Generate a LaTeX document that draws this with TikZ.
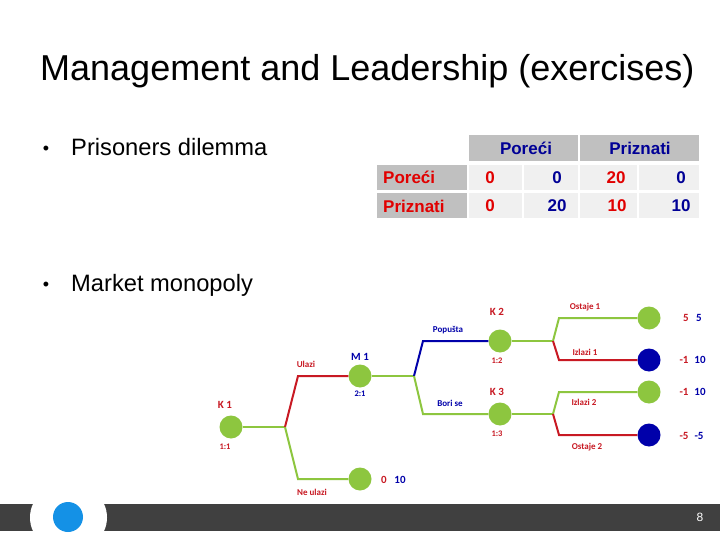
\documentclass[tikz,border=0pt]{standalone}
\usepackage{fontspec}
\setmainfont{Liberation Sans}
\newfontfamily\treefont{Carlito}
\definecolor{tgreen}{RGB}{141,198,63}
\definecolor{tnavy}{RGB}{0,0,170}
\definecolor{tred}{RGB}{200,25,35}
\definecolor{tabred}{RGB}{225,0,0}
\definecolor{tabblue}{RGB}{0,0,150}
\definecolor{cellgray}{RGB}{192,192,192}
\definecolor{celllight}{RGB}{240,240,240}
\definecolor{bardark}{RGB}{64,64,64}
\definecolor{dotblue}{RGB}{20,145,230}
\tikzset{
  px/.style={x=1pt,y=-1pt},
  gnode/.style={circle,fill=tgreen,minimum size=23pt,inner sep=0pt},
  bnode/.style={circle,fill=tnavy,minimum size=23pt,inner sep=0pt},
  gline/.style={draw=tgreen,line width=2pt},
  rline/.style={draw=tred,line width=2pt},
  nline/.style={draw=tnavy,line width=2pt},
  hcell/.style={fill=cellgray},
  vcell/.style={fill=celllight},
  tablabel/.style={font=\fontsize{17}{19}\selectfont\bfseries,text=tabred,anchor=west,inner sep=0pt},
  tabhead/.style={font=\fontsize{17}{19}\selectfont\bfseries,text=tabblue,inner sep=0pt},
  tabr/.style={font=\fontsize{17}{19}\selectfont\bfseries,text=tabred,inner sep=0pt},
  tabb/.style={font=\fontsize{17}{19}\selectfont\bfseries,text=tabblue,inner sep=0pt},
  klab/.style={font=\treefont\fontsize{11}{12}\selectfont\bfseries,inner sep=0pt},
  rlab/.style={font=\treefont\fontsize{8.5}{9}\selectfont\bfseries,inner sep=0pt},
  blab/.style={font=\treefont\fontsize{9}{10}\selectfont\bfseries,inner sep=0pt},
  pay/.style={font=\treefont\fontsize{11}{12}\selectfont\bfseries,inner sep=0pt},
}
\begin{document}
\begin{tikzpicture}[px]
\useasboundingbox (0,0) rectangle (720,540);
\fill[white] (0,0) rectangle (720,540);
% title
\node[anchor=base west,inner sep=0pt,font=\fontsize{36}{40}\selectfont] (title) at (40,81) {Management and Leadership (exercises)};
% bullets
\node[anchor=base,inner sep=0pt,font=\fontsize{18}{20}\selectfont] (bul1) at (46,155) {•};
\node[anchor=base west,inner sep=0pt,font=\fontsize{23.7}{26}\selectfont] (txt1) at (71,156) {Prisoners dilemma};
\node[anchor=base,inner sep=0pt,font=\fontsize{18}{20}\selectfont] (bul2) at (46,290) {•};
\node[anchor=base west,inner sep=0pt,font=\fontsize{23.7}{26}\selectfont] (txt2) at (71,291) {Market monopoly};
% table cells
\path[hcell] (469,135) rectangle (578,161);
\path[hcell] (580,135) rectangle (699,161);
\path[hcell] (377,165) rectangle (467,190);
\path[hcell] (377,193) rectangle (467,218);
\path[vcell] (469,165) rectangle (522,190);
\path[vcell] (524,165) rectangle (578,190);
\path[vcell] (580,165) rectangle (637,190);
\path[vcell] (639,165) rectangle (699,190);
\path[vcell] (469,193) rectangle (522,218);
\path[vcell] (524,193) rectangle (578,218);
\path[vcell] (580,193) rectangle (637,218);
\path[vcell] (639,193) rectangle (699,218);
% table text
\node[tabhead] (h1) at (526,148) {Poreći};
\node[tabhead] (h2) at (640,148) {Priznati};
\node[tablabel] (r1) at (383,177.5) {Poreći};
\node[tablabel] (r2) at (383,206) {Priznati};
\node[tabr] (v11) at (490,177.5) {0};
\node[tabb] (v12) at (557,177.5) {0};
\node[tabr] (v13) at (616,177.5) {20};
\node[tabb] (v14) at (681,177.5) {0};
\node[tabr] (v21) at (490,206) {0};
\node[tabb] (v22) at (557,206) {20};
\node[tabr] (v23) at (617,206) {10};
\node[tabb] (v24) at (681,206) {10};
% tree coordinates
\coordinate (b1) at (285,427);
\coordinate (c1) at (298,376);
\coordinate (c2) at (298,479);
\coordinate (b2) at (414,376);
\coordinate (c3) at (423,341);
\coordinate (c4) at (423,414);
\coordinate (b3) at (553,341);
\coordinate (c5) at (559,318);
\coordinate (c6) at (559,360);
\coordinate (b4) at (553,414);
\coordinate (c7) at (559,392);
\coordinate (c8) at (559,435);
% tree nodes
\node[gnode] (K1) at (231,427) {};
\node[gnode] (M1) at (360,376) {};
\node[gnode] (N1) at (360,479) {};
\node[gnode] (K2) at (500,341) {};
\node[gnode] (K3) at (500,414) {};
\node[gnode] (L1) at (649,318) {};
\node[bnode] (L2) at (649,360) {};
\node[gnode] (L3) at (649,392) {};
\node[bnode] (L4) at (649,435) {};
% tree lines
\draw[gline] (K1) -- (b1);
\draw[rline] (b1) -- (c1) -- (M1);
\draw[gline] (b1) -- (c2) -- (N1);
\draw[gline] (M1) -- (b2);
\draw[nline] (b2) -- (c3) -- (K2);
\draw[gline] (b2) -- (c4) -- (K3);
\draw[gline] (K2) -- (b3);
\draw[gline] (b3) -- (c5) -- (L1);
\draw[rline] (b3) -- (c6) -- (L2);
\draw[gline] (K3) -- (b4);
\draw[gline] (b4) -- (c7) -- (L3);
\draw[rline] (b4) -- (c8) -- (L4);
% tree labels
\node[klab,text=tred] (k1t) at (225,405) {K 1};
\node[rlab,text=tred] (k1r) at (225,447) {1:1};
\node[klab,text=tnavy] (m1t) at (360,357) {M 1};
\node[rlab,text=tnavy] (m1r) at (360,394) {2:1};
\node[klab,text=tred] (k2t) at (497,312) {K 2};
\node[rlab,text=tred] (k2r) at (497,361) {1:2};
\node[klab,text=tred] (k3t) at (497,392) {K 3};
\node[rlab,text=tred] (k3r) at (497,434) {1:3};
\node[blab,text=tred] (ul) at (306,364) {Ulazi};
\node[blab,text=tred] (nul) at (312,492) {Ne ulazi};
\node[blab,text=tnavy] (pop) at (448,330) {Popušta};
\node[blab,text=tnavy] (bor) at (450,403) {Bori se};
\node[blab,text=tred] (os1) at (585,307) {Ostaje 1};
\node[blab,text=tred] (iz1) at (585,352) {Izlazi 1};
\node[blab,text=tred] (iz2) at (584,402) {Izlazi 2};
\node[blab,text=tred] (os2) at (587,447) {Ostaje 2};
% payoffs
\node[pay,text=tred] (p0a) at (384,480) {0};
\node[pay,text=tnavy] (p0b) at (400,480) {10};
\node[pay,text=tred] (p1a) at (686,318) {5};
\node[pay,text=tnavy] (p1b) at (699,318) {5};
\node[pay,text=tred] (p2a) at (684,360) {-1};
\node[pay,text=tnavy] (p2b) at (700,360) {10};
\node[pay,text=tred] (p3a) at (684,392) {-1};
\node[pay,text=tnavy] (p3b) at (700,392) {10};
\node[pay,text=tred] (p4a) at (684,436) {-5};
\node[pay,text=tnavy] (p4b) at (699,436) {-5};
% footer
\fill[bardark] (0,504) rectangle (720,531);
\fill[white] (33,504) .. controls (29,512) and (29,523) .. (33,531) -- (104,531) .. controls (108,523) and (108,512) .. (104,504) -- cycle;
\node[circle,fill=dotblue,minimum size=30pt,inner sep=0pt] (dot) at (68,517) {};
\node[text=white,font=\fontsize{12}{14}\selectfont,inner sep=0pt] (pg) at (700,517) {8};
\end{tikzpicture}
\end{document}
